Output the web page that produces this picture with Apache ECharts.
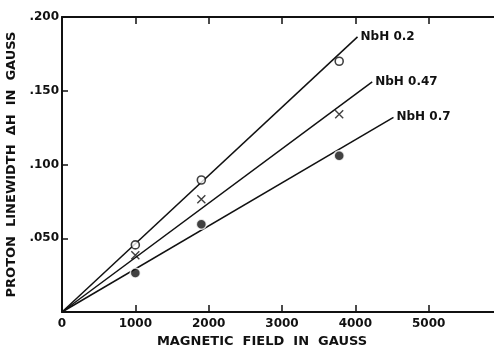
<!DOCTYPE html>
<html>
<head>
<meta charset="utf-8">
<script src="https://cdn.jsdelivr.net/npm/echarts@6/dist/echarts.min.js"></script>
<style>
  html, body { margin: 0; padding: 0; background: #fff; }
  #chart { width: 494px; height: 350px; }
</style>
</head>
<body>
<div id="chart"></div>
<script>
// Proton linewidth vs magnetic field for three NbH compositions
const fieldGauss = [1000, 1900, 3780];
const nbh02 = [0.0455, 0.0895, 0.170];
const nbh047 = [0.0385, 0.0765, 0.134];
const nbh07 = [0.0265, 0.0595, 0.106];

// Fitted straight lines through the origin, ending at the curve labels
const fit02 = [[0, 0], [4030, 0.1865]];
const fit047 = [[0, 0], [4230, 0.156]];
const fit07 = [[0, 0], [4520, 0.132]];
const seriesNames = ['NbH 0.2', 'NbH 0.47', 'NbH 0.7'];

const xTicks = [0, 1000, 2000, 3000, 4000, 5000];
const yTicks = [0.05, 0.1, 0.15, 0.2];

const FONT = '"DejaVu Sans", sans-serif';
const INK = '#111';

function pairs(xs, ys) { return xs.map((x, i) => [x, ys[i]]); }

function fitLine(data, name) {
  return {
    type: 'line',
    data: data,
    showSymbol: false,
    symbol: 'none',
    lineStyle: { color: INK, width: 1.5 },
    endLabel: {
      show: true, distance: 3,
      formatter: name, color: INK, fontFamily: FONT,
      fontWeight: 'bold', fontSize: 12
    },
    z: 2,
    silent: true
  };
}

const tickStyle = { color: INK, width: 1.5 };

const chart = echarts.init(document.getElementById('chart'), null, { renderer: 'canvas' });
chart.setOption({
  animation: false,
  backgroundColor: '#fff',
  // the frame runs on past the right edge of the canvas
  grid: { left: 62, right: -8, top: 17, bottom: 38, containLabel: false, outerBoundsMode: 'none' },
  xAxis: [{
    type: 'value', min: 0, max: 6000,
    axisLine: { show: true, lineStyle: { color: INK, width: 2 } },
    axisTick: { show: true, inside: true, length: 7, lineStyle: tickStyle, customValues: xTicks },
    splitLine: { show: false },
    axisLabel: {
      color: INK, fontFamily: FONT, fontWeight: 'bold', fontSize: 12, margin: 6,
      customValues: xTicks, formatter: v => String(v)
    },
    name: 'MAGNETIC  FIELD  IN  GAUSS',
    nameLocation: 'middle', nameGap: 23,
    nameTextStyle: { color: INK, fontFamily: FONT, fontWeight: 'bold', fontSize: 13, padding: [0, 40, 0, 0] }
  }, {
    type: 'value', position: 'top', min: 0, max: 6000,
    axisLine: { show: true, lineStyle: { color: INK, width: 2 } },
    axisTick: { show: true, inside: true, length: 7, lineStyle: tickStyle, customValues: xTicks.slice(1) },
    axisLabel: { show: false },
    splitLine: { show: false }
  }],
  yAxis: {
    type: 'value', min: 0, max: 0.2,
    axisLine: { show: true, lineStyle: { color: INK, width: 2 } },
    axisTick: { show: true, inside: true, length: 6, lineStyle: tickStyle, customValues: yTicks },
    splitLine: { show: false },
    axisLabel: {
      color: INK, fontFamily: FONT, fontWeight: 'bold', fontSize: 12, margin: 3,
      customValues: yTicks,
      formatter: v => '.' + String(Math.round(v * 1000)).padStart(3, '0')
    },
    name: 'PROTON  LINEWIDTH  \u0394H  IN  GAUSS',
    nameLocation: 'middle', nameGap: 42, nameRotate: 90,
    nameTextStyle: { color: INK, fontFamily: FONT, fontWeight: 'bold', fontSize: 13 }
  },
  series: [
    fitLine(fit02, seriesNames[0]),
    fitLine(fit047, seriesNames[1]),
    fitLine(fit07, seriesNames[2]),
    {
      name: seriesNames[0], type: 'scatter', data: pairs(fieldGauss, nbh02),
      symbol: 'circle', symbolSize: 8,
      itemStyle: { color: '#fff', borderColor: INK, borderWidth: 1.6 },
      z: 5
    },
    {
      name: seriesNames[1], type: 'scatter', data: pairs(fieldGauss, nbh047),
      symbol: 'path://M0,0L10,10M10,0L0,10', symbolSize: 8,
      itemStyle: { color: 'none', borderColor: INK, borderWidth: 1.4 },
      z: 5
    },
    {
      name: seriesNames[2], type: 'scatter', data: pairs(fieldGauss, nbh07),
      symbol: 'circle', symbolSize: 10,
      itemStyle: { color: INK, borderColor: '#fff', borderWidth: 1.5 },
      z: 5
    }
  ]
});
</script>
</body>
</html>
